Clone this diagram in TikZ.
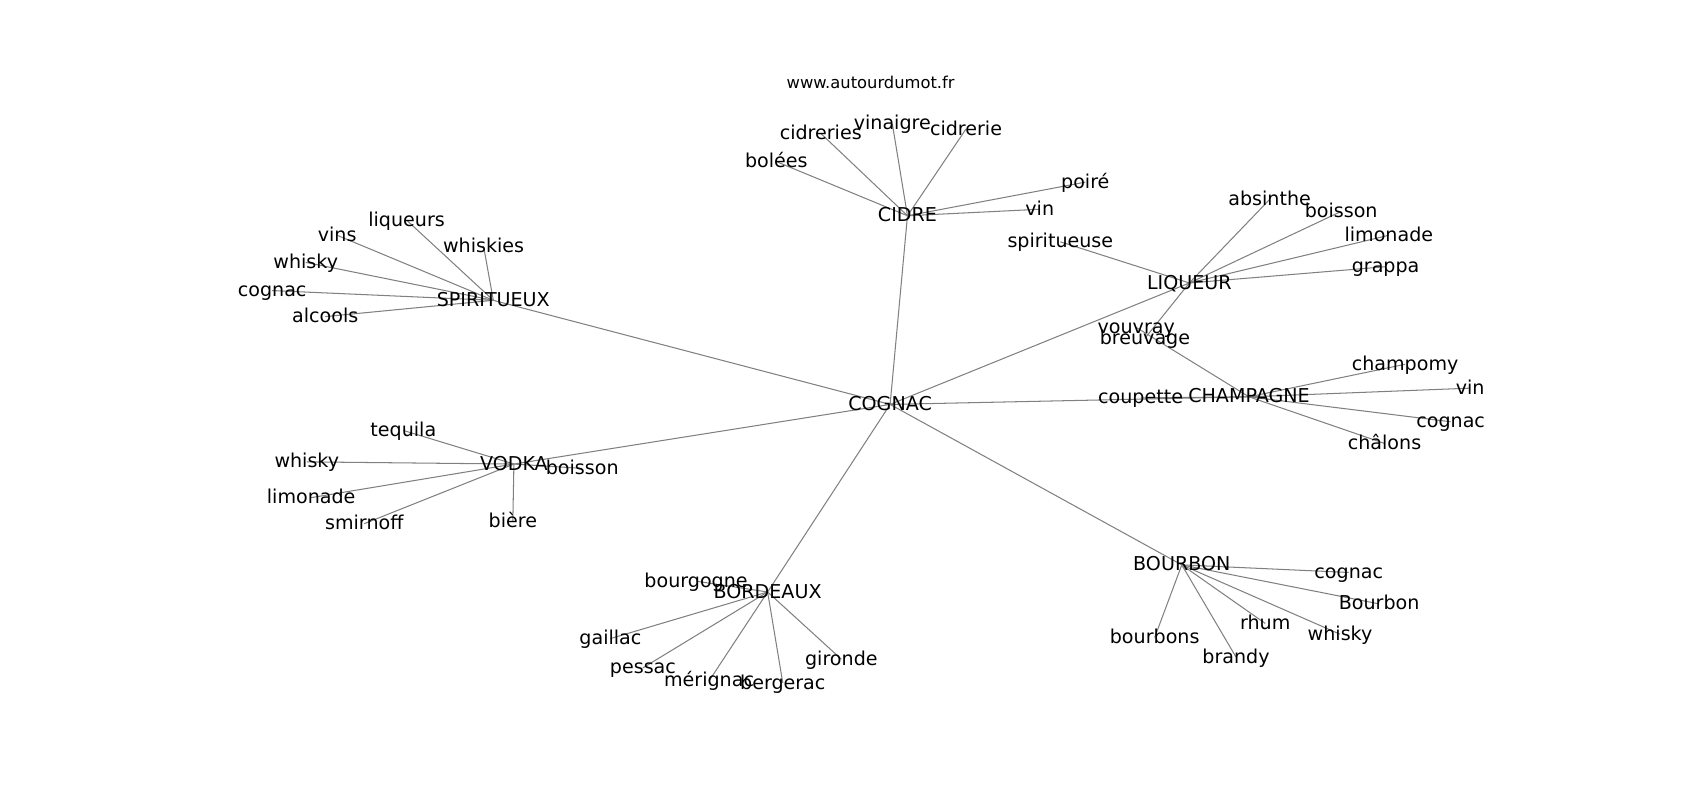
\documentclass[tikz,border=0pt]{standalone}
\usepackage{fontspec}
\setmainfont{DejaVu Sans}
\usepackage{tikz}
\usetikzlibrary{backgrounds}

\begin{document}
\begin{tikzpicture}[x=0.2754mm,y=-0.2754mm,
    word/.style={inner sep=0pt,text height=0.98em,text depth=0.1em,font=\fontsize{13.8pt}{16pt}\selectfont},
    link/.style={draw=black!50,line width=0.75pt}]
        \useasboundingbox (0,0) rectangle (1568,738);
        \node[inner sep=0pt,font=\fontsize{11.8pt}{14pt}\selectfont] (site) at (803,76) {www.autourdumot.fr};
        % the centre word and its neighbours
        \node[word] (COGNAC) at (821,373) {COGNAC};
        \node[word] (CIDRE) at (837,199) {CIDRE};
        \node[word] (SPIRITUEUX) at (455,277) {SPIRITUEUX};
        \node[word] (LIQUEUR) at (1097,261) {LIQUEUR};
        \node[word] (CHAMPAGNE) at (1152,366) {CHAMPAGNE};
        \node[word] (VODKA) at (474,428) {VODKA};
        \node[word] (BORDEAUX) at (708,546) {BORDEAUX};
        \node[word] (BOURBON) at (1090,521) {BOURBON};
        % words round CIDRE
        \node[word] (bolees) at (716,149) {bolées};
        \node[word] (cidreries) at (757,123) {cidreries};
        \node[word] (vinaigre) at (823,114) {vinaigre};
        \node[word] (cidrerie) at (891,119) {cidrerie};
        \node[word] (poire) at (1001,168) {poiré};
        \node[word] (vin1) at (959,193) {vin};
        % words round SPIRITUEUX
        \node[word] (liqueurs) at (375,203) {liqueurs};
        \node[word] (vins) at (311,217) {vins};
        \node[word] (whiskies) at (446,227) {whiskies};
        \node[word] (whisky1) at (282,242) {whisky};
        \node[word] (cognac1) at (251,268) {cognac};
        \node[word] (alcools) at (300,292) {alcools};
        % words round LIQUEUR
        \node[word] (spiritueuse) at (978,223) {spiritueuse};
        \node[word] (absinthe) at (1171,184) {absinthe};
        \node[word] (boisson1) at (1237,195) {boisson};
        \node[word] (limonade1) at (1281,217) {limonade};
        \node[word] (grappa) at (1278,246) {grappa};
        \node[word] (breuvage) at (1056,312) {breuvage};
        % words round CHAMPAGNE
        \node[word] (vouvray) at (1048,302) {vouvray};
        \node[word] (coupette) at (1052,367) {coupette};
        \node[word] (champomy) at (1296,336) {champomy};
        \node[word] (vin2) at (1356,358) {vin};
        \node[word] (cognac2) at (1338,389) {cognac};
        \node[word] (chalons) at (1277,409) {châlons};
        % words round VODKA
        \node[word] (tequila) at (372,397) {tequila};
        \node[word] (whisky2) at (283,426) {whisky};
        \node[word] (limonade2) at (287,459) {limonade};
        \node[word] (smirnoff) at (336,483) {smirnoff};
        \node[word] (biere) at (473,481) {bière};
        \node[word] (boisson2) at (537,432) {boisson};
        % words round BORDEAUX
        \node[word] (bourgogne) at (642,536) {bourgogne};
        \node[word] (gaillac) at (563,589) {gaillac};
        \node[word] (pessac) at (593,616) {pessac};
        \node[word] (merignac) at (654,628) {mérignac};
        \node[word] (bergerac) at (722,630) {bergerac};
        \node[word] (gironde) at (776,608) {gironde};
        % words round BOURBON
        \node[word] (cognac3) at (1244,528) {cognac};
        \node[word] (bourbon) at (1272,557) {Bourbon};
        \node[word] (rhum) at (1167,575) {rhum};
        \node[word] (whisky3) at (1236,585) {whisky};
        \node[word] (bourbons) at (1065,588) {bourbons};
        \node[word] (brandy) at (1140,606) {brandy};
        \begin{pgfonlayer}{background}
        % links, under the words
        \draw[link] (COGNAC.center) -- (CIDRE.center);
        \draw[link] (COGNAC.center) -- (SPIRITUEUX.center);
        \draw[link] (COGNAC.center) -- (LIQUEUR.center);
        \draw[link] (COGNAC.center) -- (CHAMPAGNE.center);
        \draw[link] (COGNAC.center) -- (VODKA.center);
        \draw[link] (COGNAC.center) -- (BORDEAUX.center);
        \draw[link] (COGNAC.center) -- (BOURBON.center);
        \draw[link] (CIDRE.center) -- (bolees.center);
        \draw[link] (CIDRE.center) -- (cidreries.center);
        \draw[link] (CIDRE.center) -- (vinaigre.center);
        \draw[link] (CIDRE.center) -- (cidrerie.center);
        \draw[link] (CIDRE.center) -- (poire.center);
        \draw[link] (CIDRE.center) -- (vin1.center);
        \draw[link] (SPIRITUEUX.center) -- (liqueurs.center);
        \draw[link] (SPIRITUEUX.center) -- (vins.center);
        \draw[link] (SPIRITUEUX.center) -- (whiskies.center);
        \draw[link] (SPIRITUEUX.center) -- (whisky1.center);
        \draw[link] (SPIRITUEUX.center) -- (cognac1.center);
        \draw[link] (SPIRITUEUX.center) -- (alcools.center);
        \draw[link] (LIQUEUR.center) -- (spiritueuse.center);
        \draw[link] (LIQUEUR.center) -- (absinthe.center);
        \draw[link] (LIQUEUR.center) -- (boisson1.center);
        \draw[link] (LIQUEUR.center) -- (limonade1.center);
        \draw[link] (LIQUEUR.center) -- (grappa.center);
        \draw[link] (LIQUEUR.center) -- (breuvage.center);
        \draw[link] (CHAMPAGNE.center) -- (vouvray.center);
        \draw[link] (CHAMPAGNE.center) -- (coupette.center);
        \draw[link] (CHAMPAGNE.center) -- (champomy.center);
        \draw[link] (CHAMPAGNE.center) -- (vin2.center);
        \draw[link] (CHAMPAGNE.center) -- (cognac2.center);
        \draw[link] (CHAMPAGNE.center) -- (chalons.center);
        \draw[link] (VODKA.center) -- (tequila.center);
        \draw[link] (VODKA.center) -- (whisky2.center);
        \draw[link] (VODKA.center) -- (limonade2.center);
        \draw[link] (VODKA.center) -- (smirnoff.center);
        \draw[link] (VODKA.center) -- (biere.center);
        \draw[link] (VODKA.center) -- (boisson2.center);
        \draw[link] (BORDEAUX.center) -- (bourgogne.center);
        \draw[link] (BORDEAUX.center) -- (gaillac.center);
        \draw[link] (BORDEAUX.center) -- (pessac.center);
        \draw[link] (BORDEAUX.center) -- (merignac.center);
        \draw[link] (BORDEAUX.center) -- (bergerac.center);
        \draw[link] (BORDEAUX.center) -- (gironde.center);
        \draw[link] (BOURBON.center) -- (cognac3.center);
        \draw[link] (BOURBON.center) -- (bourbon.center);
        \draw[link] (BOURBON.center) -- (rhum.center);
        \draw[link] (BOURBON.center) -- (whisky3.center);
        \draw[link] (BOURBON.center) -- (bourbons.center);
        \draw[link] (BOURBON.center) -- (brandy.center);
        \end{pgfonlayer}
      \end{tikzpicture}
\end{document}
